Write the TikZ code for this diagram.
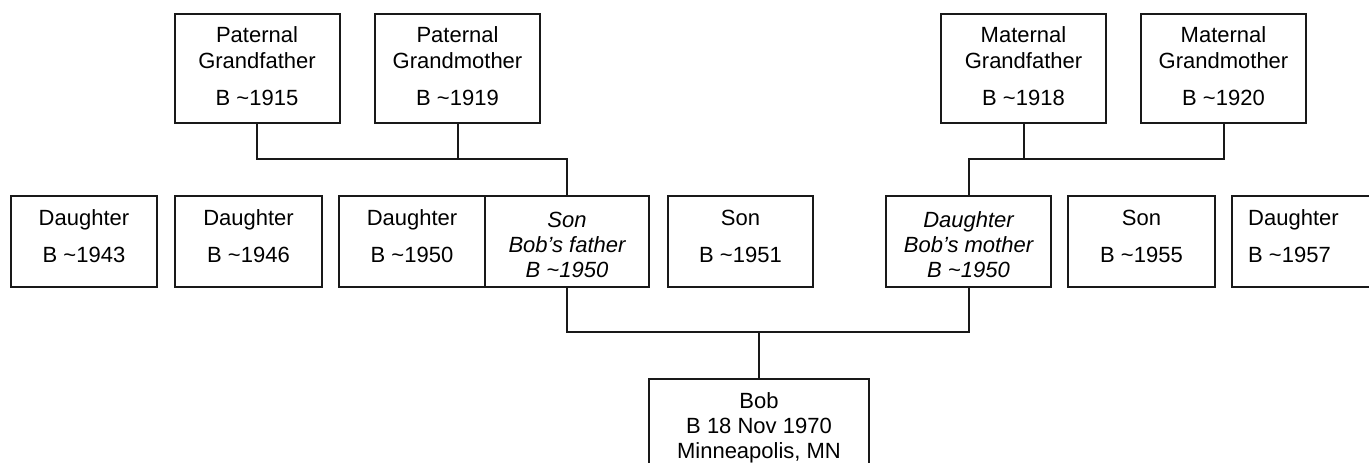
\documentclass[tikz,border=0pt]{standalone}
\usepackage{fontspec}
\setmainfont{Liberation Sans}
\begin{document}
\begin{tikzpicture}[x=1pt,y=-1pt,
  box/.style={draw=black!90, line width=2pt, fill=white, inner sep=0pt, minimum height=#1},
  box/.default=91pt,
  txt/.style={inner sep=0pt, anchor=north, align=center, font=\fontsize{22}{26}\selectfont, text=black},
  itxt/.style={txt, font=\fontsize{22}{25}\selectfont\itshape},
  wire/.style={draw=black!90, line width=2pt}]
\useasboundingbox (0,0) rectangle (1369,463);
\clip (0,0) rectangle (1369,463);
\fill[white] (0,0) rectangle (1369,463);
% bars
\coordinate (pbar) at (0,159);
\coordinate (cbar) at (0,332);
% top row
\node[box=109pt, minimum width=165pt] (pgf) at (257,68.5) {};
\node[box=109pt, minimum width=165pt] (pgm) at (457.5,68.5) {};
\node[box=109pt, minimum width=165pt] (mgf) at (1023.5,68.5) {};
\node[box=109pt, minimum width=165pt] (mgm) at (1223.5,68.5) {};
\node[txt] (pgft) at (257,26.5) {Paternal\\Grandfather\\[11pt]B \textasciitilde1915};
\node[txt] (pgmt) at (457.5,26.5) {Paternal\\Grandmother\\[11pt]B \textasciitilde1919};
\node[txt] (mgft) at (1023.5,26.5) {Maternal\\Grandfather\\[11pt]B \textasciitilde1918};
\node[txt] (mgmt) at (1223.5,26.5) {Maternal\\Grandmother\\[11pt]B \textasciitilde1920};
% middle row
\node[box, minimum width=146pt] (d1) at (84,241.5) {};
\node[box, minimum width=147pt] (d2) at (248.5,241.5) {};
\node[box, minimum width=146pt] (d3) at (412,241.5) {};
\node[box, minimum width=164pt] (son) at (567,241.5) {};
\node[box, minimum width=145pt] (s2) at (740.5,241.5) {};
\node[box, minimum width=165pt] (mom) at (968.5,241.5) {};
\node[box, minimum width=147pt] (s3) at (1141.5,241.5) {};
\node[box, minimum width=147pt] (d4) at (1305.5,241.5) {};
\node[txt] (d1t) at (84,209.5) {Daughter\\[11pt]B \textasciitilde1943};
\node[txt] (d2t) at (248.5,209.5) {Daughter\\[11pt]B \textasciitilde1946};
\node[txt] (d3t) at (412,209.5) {Daughter\\[11pt]B \textasciitilde1950};
\node[itxt] (sont) at (567,211.5) {Son\\Bob's father\\B \textasciitilde1950};
\node[txt] (s2t) at (740.5,209.5) {Son\\[11pt]B \textasciitilde1951};
\node[itxt] (momt) at (968.5,211.5) {Daughter\\Bob's mother\\B \textasciitilde1950};
\node[txt] (s3t) at (1141.5,209.5) {Son\\[11pt]B \textasciitilde1955};
\node[txt, anchor=north west, align=left] (d4t) at (1248,209.5) {Daughter\\[11pt]B \textasciitilde1957};
% Bob
\node[box=120pt, minimum width=220pt, anchor=north] (bob) at (759,378) {};
\node[txt, font=\fontsize{22}{25}\selectfont] (bobt) at (759,392.5) {Bob\\B 18 Nov 1970\\Minneapolis, MN};
% connectors
\draw[wire] (pgf.south) |- (pbar -| son.north) -- (son.north);
\draw[wire] (pgm.south) -- (pgm.south |- pbar);
\draw[wire] (mgm.south) |- (pbar -| mom.north) -- (mom.north);
\draw[wire] (mgf.south) -- (mgf.south |- pbar);
\draw[wire] (son.south) |- (cbar -| mom.south) -- (mom.south);
\draw[wire] (bob.north) -- (bob.north |- cbar);
\end{tikzpicture}
\end{document}
